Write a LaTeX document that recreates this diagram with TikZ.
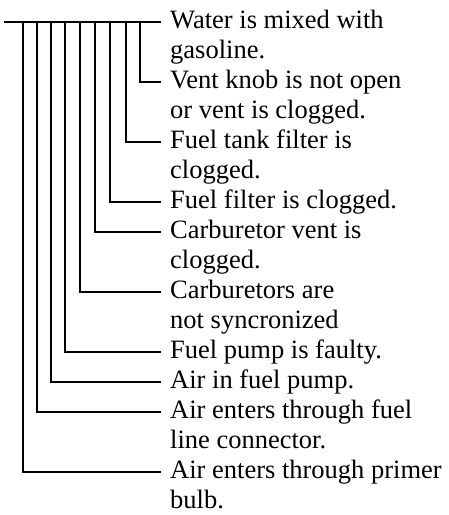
\documentclass[tikz,border=0pt]{standalone}
\usepackage{fontspec}
\setmainfont{Liberation Serif}
\newcommand\itemtext[1]{\vtop{\halign{##\hfil\cr#1\crcr}}}
\tikzset{
  lbl/.style={anchor=base west, inner sep=0pt, font=\fontsize{26.5}{30}\selectfont},
  conn/.style={line width=1.4pt, line cap=rect},
  tip/.style={xshift=-10pt, yshift=6pt}
}
\begin{document}
\begin{tikzpicture}[x=1pt, y=-1pt]
\useasboundingbox (0,0) rectangle (449,515);
% text nodes (first-line baseline = connector y + 6)
\node[lbl] (water)   at (170, 28)  {\itemtext{Water is mixed with\cr gasoline.}};
\node[lbl] (vent)    at (170, 88)  {\itemtext{Vent knob is not open\cr or vent is clogged.}};
\node[lbl] (tank)    at (170, 148) {\itemtext{Fuel tank filter is\cr clogged.}};
\node[lbl] (filter)  at (170, 208) {\itemtext{Fuel filter is clogged.}};
\node[lbl] (cvent)   at (170, 238) {\itemtext{Carburetor vent is\cr clogged.}};
\node[lbl] (carbs)   at (170, 298) {\itemtext{Carburetors are\cr not syncronized}};
\node[lbl] (pump)    at (170, 358) {\itemtext{Fuel pump is faulty.}};
\node[lbl] (airpump) at (170, 388) {\itemtext{Air in fuel pump.}};
\node[lbl] (airline) at (170, 418) {\itemtext{Air enters through fuel\cr line connector.}};
\node[lbl] (bulb)    at (170, 478) {\itemtext{Air enters through primer\cr bulb.}};
% top bar and branch points
\coordinate (start) at (5,22);
\coordinate (b1) at (23,22);
\coordinate (b2) at (37,22);
\coordinate (b3) at (51,22);
\coordinate (b4) at (65,22);
\coordinate (b5) at (80,22);
\coordinate (b6) at (95,22);
\coordinate (b7) at (110,22);
\coordinate (b8) at (126,22);
\coordinate (b9) at (140,22);
\draw[conn] (start) -- ([tip]water.base west);
\draw[conn] (b9) |- ([tip]vent.base west);
\draw[conn] (b8) |- ([tip]tank.base west);
\draw[conn] (b7) |- ([tip]filter.base west);
\draw[conn] (b6) |- ([tip]cvent.base west);
\draw[conn] (b5) |- ([tip]carbs.base west);
\draw[conn] (b4) |- ([tip]pump.base west);
\draw[conn] (b3) |- ([tip]airpump.base west);
\draw[conn] (b2) |- ([tip]airline.base west);
\draw[conn] (b1) |- ([tip]bulb.base west);
\end{tikzpicture}
\end{document}
